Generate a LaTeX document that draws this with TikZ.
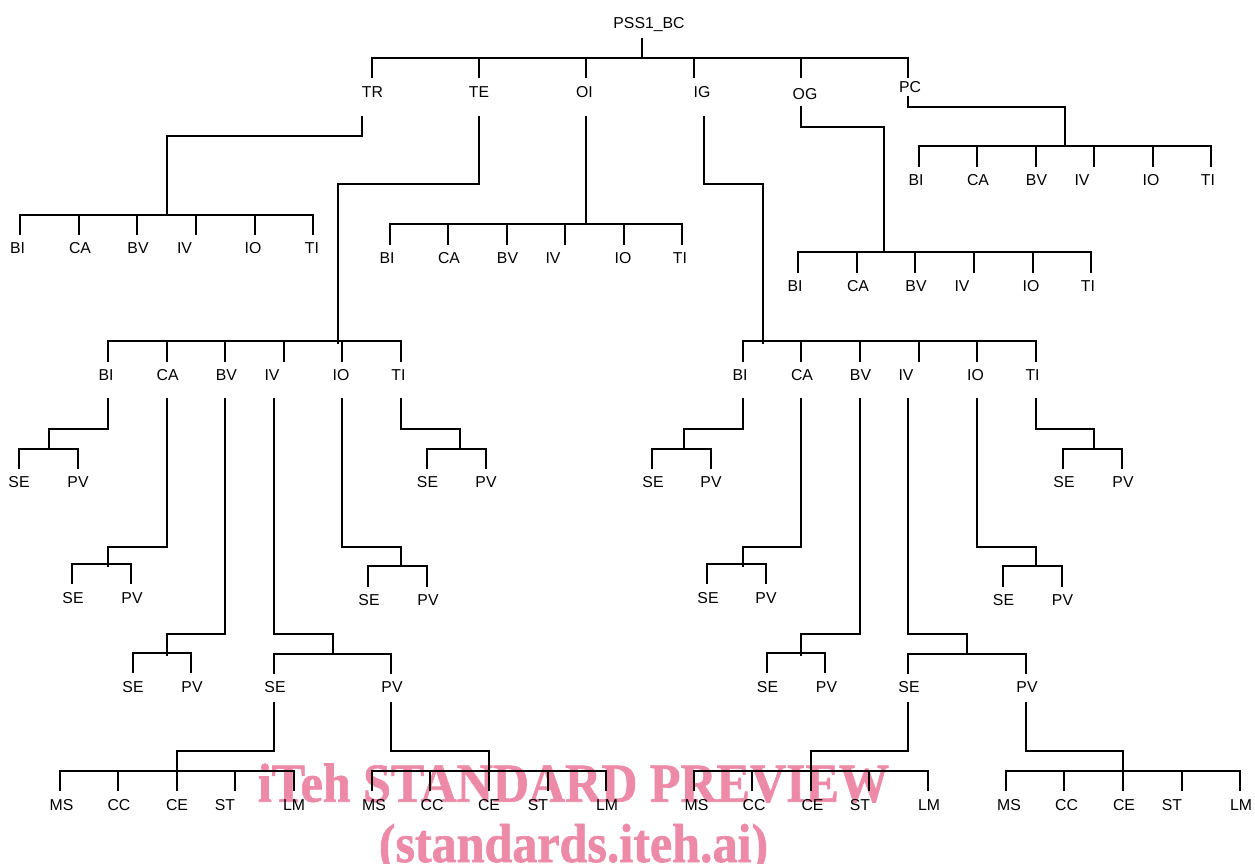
\documentclass[tikz,border=0pt]{standalone}
\usepackage{graphicx}
\usepackage{fontspec}
\setmainfont{Liberation Sans}
\newfontfamily\wmfont{Liberation Serif Bold}[FakeBold=1.2]
\definecolor{wmpink}{RGB}{236,138,167}
\tikzset{
  ln/.style={line width=1.5pt, line cap=rect},
  lbl/.style={font=\fontsize{15.8}{18}\selectfont, inner sep=0pt, anchor=base},
  wmark/.style={font=\wmfont\fontsize{55}{60}\selectfont, text=wmpink, inner sep=0pt, anchor=base}
}
% children: #1 prefix, #2 bar y, #3 stem end y, #4 list stemx/labelx/baseline/text
\newcommand\kids[4]{%
  \foreach \sx/\lx/\ly/\txt [count=\i] in {#4} {
    \node[lbl] (#1-\i) at (\lx,\ly) {\txt};
    \coordinate (#1-\i-b) at (\sx,#2);
    \coordinate (#1-\i-t) at (\sx,#3);
    \draw[ln] (#1-\i-b) -- (#1-\i-t);
    \ifnum\i>1
      \pgfmathtruncatemacro\prv{\i-1}
      \draw[ln] (#1-\prv-b) -- (#1-\i-b);
    \fi
  }}
% link below a parent: #1 parent name, #2 x, #3 y start, #4 elbow y, #5 junction x, #6 end y
\newcommand\link[6]{%
  \coordinate (#1o) at (#2,#3);
  \coordinate (#1e) at (#5,#4);
  \coordinate (#1j) at (#5,#6);
  \draw[ln] (#1o) |- (#1e) -- (#1j);}
\begin{document}
\begin{tikzpicture}[x=1pt,y=-1pt]
\useasboundingbox (0,0) rectangle (1255,863);
\node[wmark] (wm1) at (573.5,801.7) {\scalebox{0.91}[1]{iTeh STANDARD PREVIEW}};
\node[wmark] (wm2) at (573.5,862) {\scalebox{0.91}[1]{(standards.iteh.ai)}};

\node[lbl] (root) at (649,28) {PSS1\_BC};
\link{root}{642}{39}{58}{642}{58}
\kids{L1}{58}{77}{372/372.5/97/TR, 479/479/97/TE, 586/584.5/97/OI, 694/702/97/IG, 801/805/99/OG, 908/910/92/PC}

% TR
\link{L1-1}{362}{117}{136}{167}{215}
\kids{TR}{215}{234}{20/17.5/253.3/BI, 79/80/253.3/CA, 137/138/253.3/BV, 196/184.5/253.3/IV, 255/253/253.3/IO, 313/312/253.3/TI}
% TE
\link{L1-2}{479}{117}{184}{338}{343}
\kids{TE}{341}{361}{108/106/380/BI, 167/167.7/380/CA, 225/226.4/380/BV, 284/272/380/IV, 342/341/380/IO, 401/398.4/380/TI}
% OI
\link{L1-3}{586}{117}{224}{586}{224}
\kids{OI}{224}{244}{390/387/263.3/BI, 448/449/263.3/CA, 507/507.5/263.3/BV, 565/553/263.3/IV, 624/623/263.3/IO, 682/680/263.3/TI}
% IG
\link{L1-4}{704}{117}{184}{763}{343}
\kids{IG}{341}{361}{743/740/380/BI, 801/802/380/CA, 860/860.5/380/BV, 919/906/380/IV, 977/975.5/380/IO, 1036/1032.6/380/TI}
% OG
\link{L1-5}{801}{107}{127}{884}{252}
\kids{OG}{252}{272}{798/795/291/BI, 857/858/291/CA, 915/916/291/BV, 974/962/291/IV, 1033/1031/291/IO, 1091/1088/291/TI}
% PC
\link{L1-6}{908}{97}{107}{1065}{146}
\kids{PC}{146}{166}{919/916/185.7/BI, 977/978/185.7/CA, 1036/1036.5/185.7/BV, 1094/1082/185.7/IV, 1153/1151/185.7/IO, 1211/1208/185.7/TI}

% TE children
\link{TE-1}{108}{399}{429}{49}{449}
\kids{TEa}{449}{468}{19/19/487.3/SE, 78/78/487.3/PV}
\link{TE-2}{167}{399}{547}{108}{566}
\kids{TEb}{564}{583}{72/73/603.3/SE, 131/132/603.3/PV}
\link{TE-3}{225}{399}{634}{167}{655}
\kids{TEc}{653}{672}{133/133/692/SE, 191/192/692/PV}
\link{TE-4}{274}{399}{634}{333}{654}
\kids{TEd}{654}{673}{274/275/692/SE, 391/392/692/PV}
\link{TEd-1}{274}{703}{751}{177}{771}
\kids{TEdS}{771}{790}{60/61.5/810/MS, 118/119/810/CC, 177/177/810/CE, 235/225/810/ST, 294/294/810/LM}
\link{TEd-2}{391}{703}{751}{489}{771}
\kids{TEdP}{771}{790}{372/374/810/MS, 430/432/810/CC, 489/489/810/CE, 548/538/810/ST, 606/607/810/LM}
\link{TE-5}{342}{399}{547}{401}{566}
\kids{TEe}{566}{586}{368/369/605.5/SE, 427/428/605.5/PV}
\link{TE-6}{401}{399}{429}{460}{449}
\kids{TEf}{449}{468}{427/427.5/487.3/SE, 486/486/487.3/PV}

% IG children
\link{IG-1}{743}{399}{429}{684}{449}
\kids{IGa}{449}{468}{652/653/487.3/SE, 711/711/487.3/PV}
\link{IG-2}{801}{399}{547}{743}{566}
\kids{IGb}{564}{583}{707/708/603.3/SE, 766/766/603.3/PV}
\link{IG-3}{860}{399}{634}{801}{655}
\kids{IGc}{653}{672}{767/767.5/692/SE, 825/826.5/692/PV}
\link{IG-4}{908}{399}{634}{967}{654}
\kids{IGd}{654}{673}{908/909/692/SE, 1026/1027/692/PV}
\link{IGd-1}{908}{703}{751}{811}{771}
\kids{IGdS}{771}{790}{694/696.5/810/MS, 752/754/810/CC, 811/812.5/810/CE, 869/860/810/ST, 928/929/810/LM}
\link{IGd-2}{1026}{703}{751}{1123}{771}
\kids{IGdP}{771}{790}{1006/1009/810/MS, 1064/1066.5/810/CC, 1123/1124/810/CE, 1182/1172/810/ST, 1240/1241/810/LM}
\link{IG-5}{977}{399}{547}{1036}{566}
\kids{IGe}{566}{586}{1003/1003.5/605.5/SE, 1062/1062.5/605.5/PV}
\link{IG-6}{1036}{399}{429}{1094}{449}
\kids{IGf}{449}{468}{1063/1064/487.3/SE, 1122/1123/487.3/PV}
\end{tikzpicture}
\end{document}
